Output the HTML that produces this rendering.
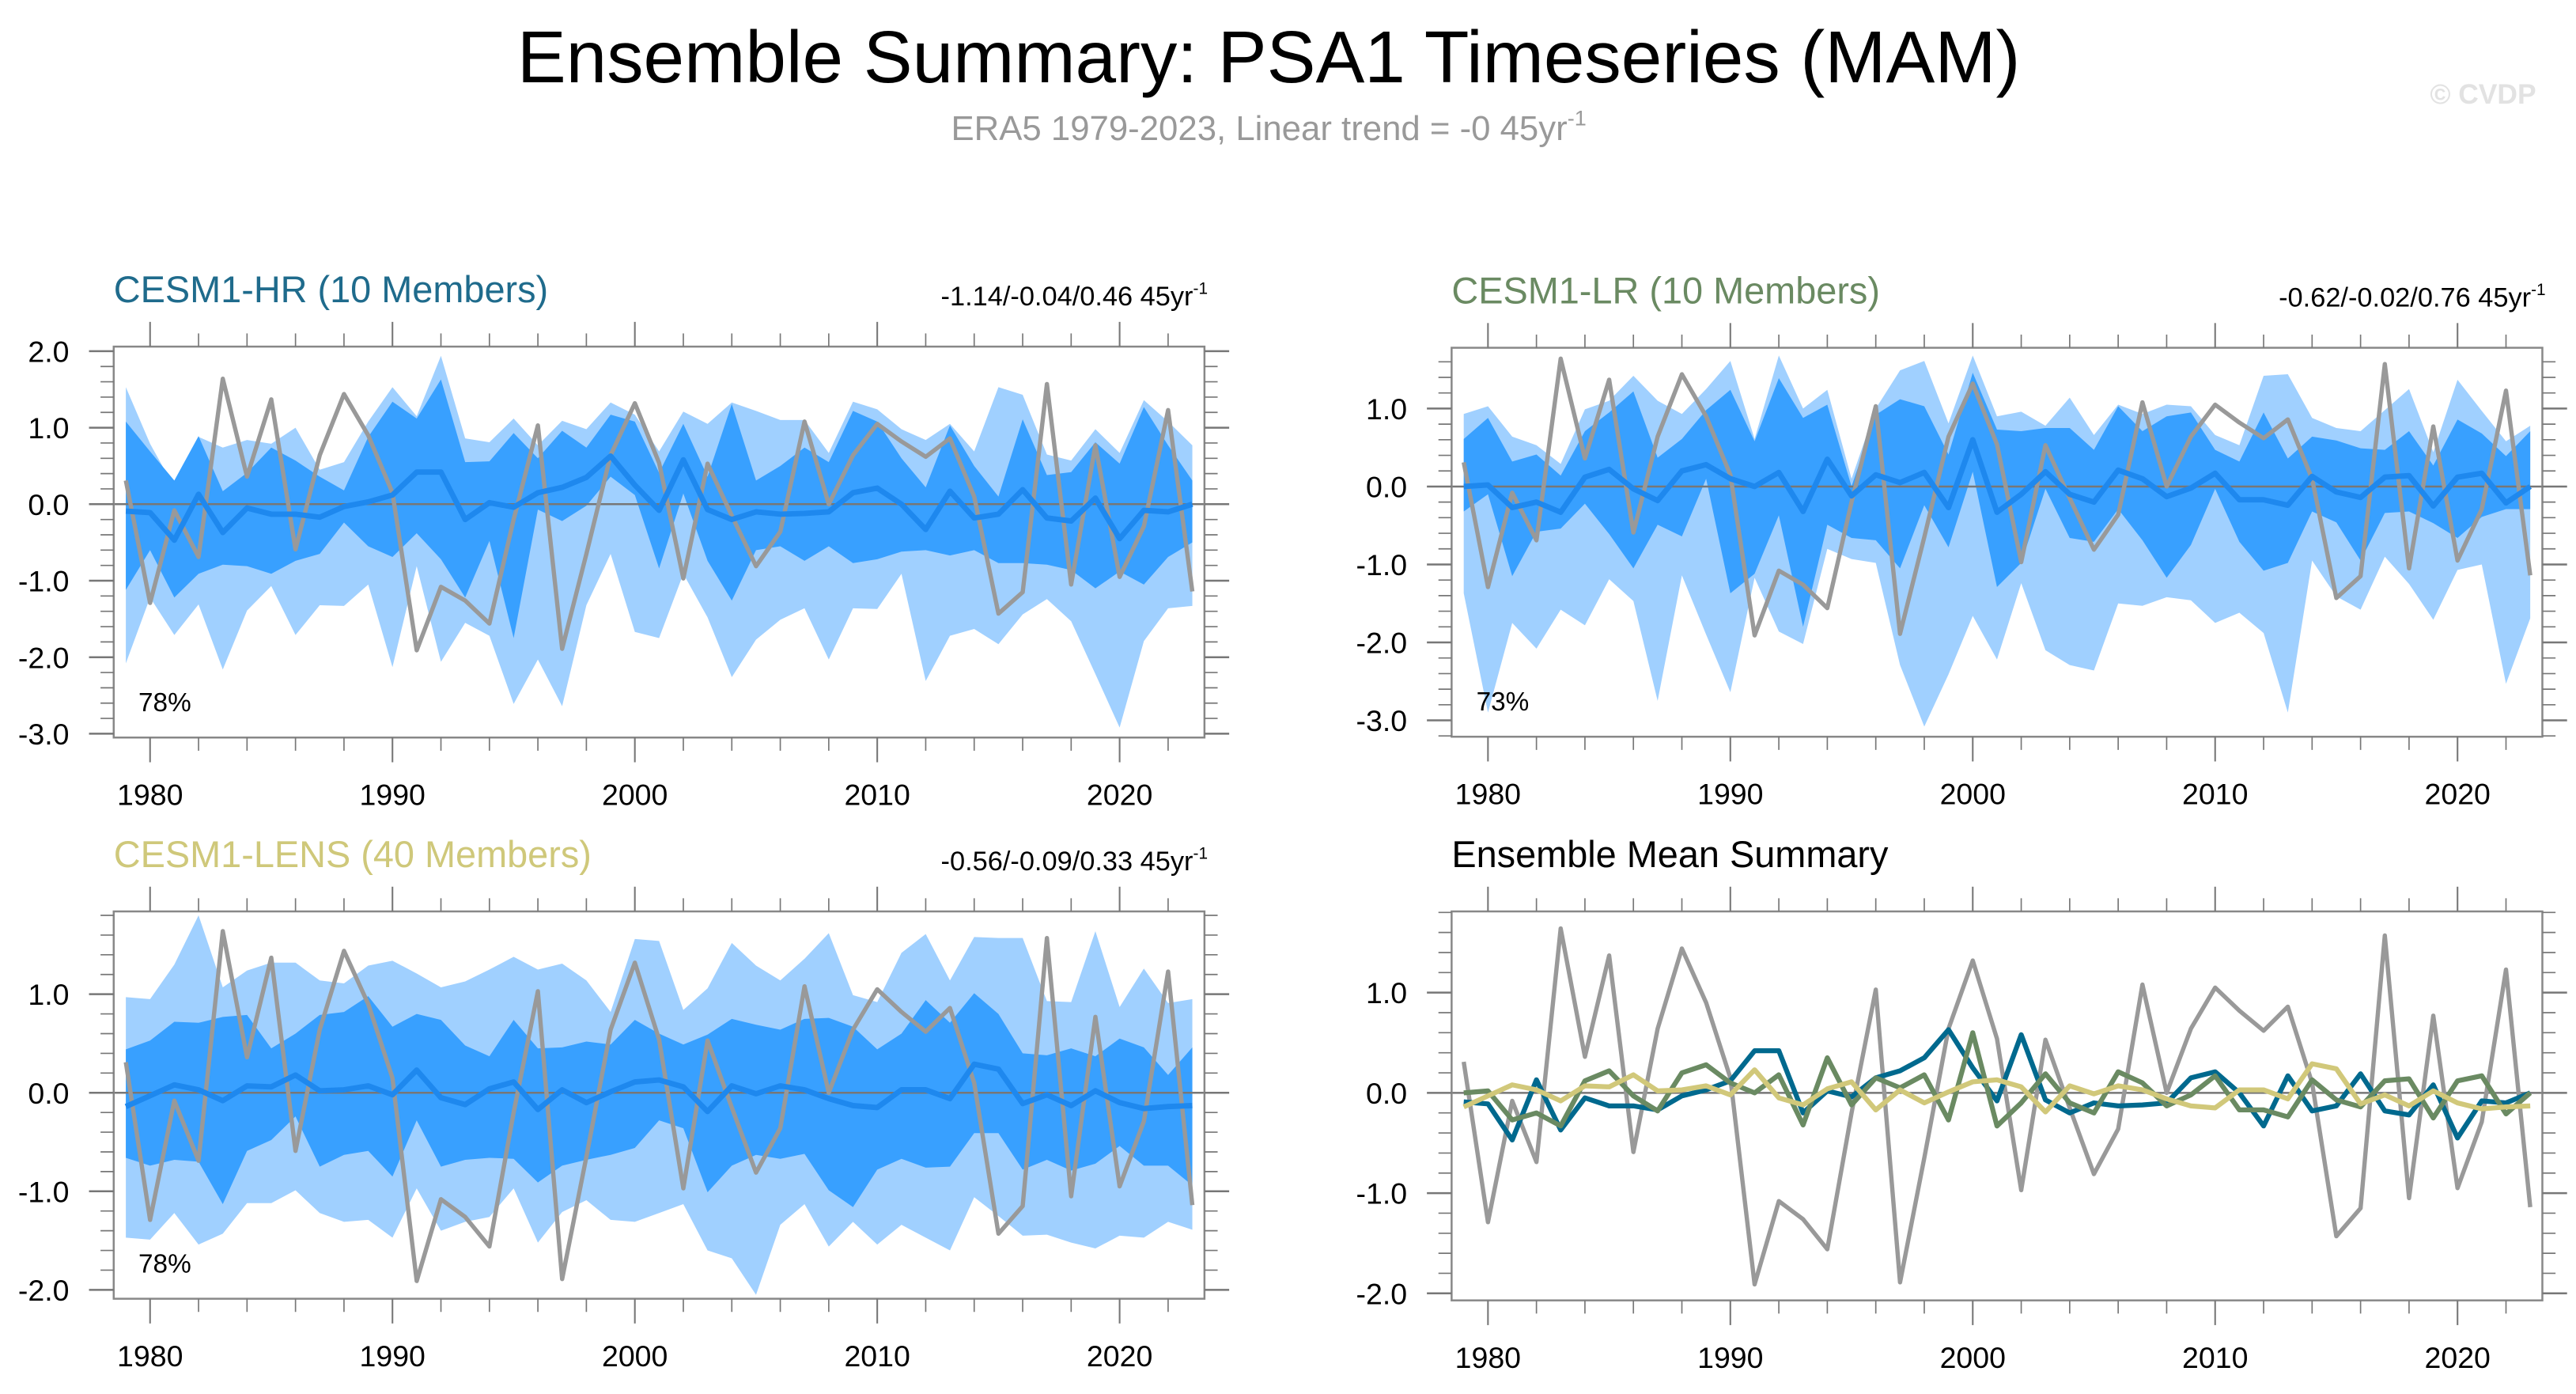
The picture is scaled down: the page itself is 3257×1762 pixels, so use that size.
<!DOCTYPE html>
<html><head><meta charset="utf-8"><style>
html,body{margin:0;padding:0;background:#fff;}
svg{display:block;font-family:"Liberation Sans",sans-serif;}
</style></head><body>
<svg id="chart" width="3257" height="1762" viewBox="0 0 1563.4 845.8" xmlns="http://www.w3.org/2000/svg">
<text x="770" y="50" text-anchor="middle" font-size="44.5">Ensemble Summary: PSA1 Timeseries (MAM)</text>
<text x="770" y="85" text-anchor="middle" font-size="21" fill="#999">ERA5 1979-2023, Linear trend = -0 45yr<tspan dy="-9" font-size="13">-1</tspan></text>
<text x="1507" y="63" text-anchor="middle" font-size="17" font-weight="bold" fill="#e2e2e2">© CVDP</text>
<g id="plots"></g>
</svg>
<script>
const years = [];
for (let y = 1979; y <= 2023; y++) years.push(y);
const era5 = [0.31,-1.29,-0.08,-0.69,1.64,0.36,1.37,-0.59,0.64,1.44,0.90,0.15,-1.91,-1.08,-1.26,-1.56,-0.2,1.03,-1.89,-0.65,0.64,1.32,0.54,-0.97,0.53,-0.15,-0.81,-0.36,1.08,0.0,0.64,1.05,0.82,0.62,0.86,0.1,-1.43,-1.15,1.57,-1.05,0.77,-0.95,-0.29,1.23,-1.14];
const hrMean = [-0.09,-0.11,-0.47,0.13,-0.37,-0.05,-0.13,-0.13,-0.17,-0.03,0.03,0.12,0.42,0.42,-0.2,0.02,-0.04,0.15,0.22,0.35,0.63,0.25,-0.08,0.58,-0.07,-0.2,-0.1,-0.13,-0.12,-0.1,0.15,0.21,0.0,-0.33,0.17,-0.18,-0.13,0.19,-0.18,-0.22,0.08,-0.45,-0.08,-0.1,0.0];
const lrMean = [0.0,0.02,-0.27,-0.2,-0.33,0.12,0.22,-0.03,-0.18,0.2,0.28,0.1,0.0,0.18,-0.32,0.35,-0.12,0.15,0.05,0.18,-0.27,0.6,-0.33,-0.1,0.19,-0.1,-0.2,0.21,0.1,-0.13,-0.02,0.17,-0.17,-0.17,-0.24,0.13,-0.07,-0.14,0.12,0.14,-0.25,0.12,0.17,-0.21,0.0];
const lensMean = [-0.14,-0.03,0.08,0.03,-0.08,0.07,0.06,0.18,0.02,0.03,0.07,-0.02,0.23,-0.05,-0.12,0.04,0.11,-0.17,0.03,-0.1,0.01,0.11,0.13,0.06,-0.19,0.07,-0.01,0.07,0.03,-0.06,-0.13,-0.15,0.03,0.03,-0.06,0.29,0.24,-0.11,-0.02,-0.13,0.02,-0.1,-0.16,-0.14,-0.13];

const hrMax = [1.53,0.79,0.22,0.88,0.74,0.84,0.79,1.0,0.45,0.55,1.08,1.53,1.15,1.94,0.86,0.81,1.12,0.77,1.09,0.98,1.33,1.17,0.69,1.21,1.05,1.33,1.22,1.1,1.1,0.67,1.34,1.24,0.98,0.84,1.05,0.69,1.53,1.43,0.65,0.57,0.98,0.67,1.36,1.08,0.77];
const hrHi = [1.08,0.69,0.31,0.89,0.17,0.41,0.74,0.57,0.36,0.18,0.88,1.34,1.12,1.63,0.55,0.56,0.93,0.6,0.96,0.74,1.17,1.08,0.41,1.05,0.36,1.31,0.31,0.5,0.74,0.55,1.22,1.08,0.6,0.22,1.03,0.5,0.1,1.11,0.38,0.42,0.81,0.53,1.27,0.77,0.31];
const hrLo = [-1.12,-0.6,-1.22,-0.91,-0.79,-0.81,-0.91,-0.74,-0.65,-0.24,-0.55,-0.69,-0.38,-0.72,-1.22,-0.48,-1.75,-0.07,-0.22,-0.02,0.36,0.12,-0.84,0.14,-0.74,-1.26,-0.6,-0.55,-0.74,-0.55,-0.77,-0.72,-0.62,-0.6,-0.67,-0.6,-0.77,-0.77,-0.79,-0.86,-1.1,-0.88,-1.05,-0.69,-0.5];
const hrMin = [-2.08,-1.22,-1.71,-1.31,-2.16,-1.39,-1.07,-1.71,-1.32,-1.33,-1.05,-2.13,-0.81,-2.06,-1.55,-1.72,-2.61,-2.03,-2.64,-1.32,-0.65,-1.67,-1.75,-0.91,-1.48,-2.26,-1.77,-1.51,-1.36,-2.03,-1.36,-1.37,-0.91,-2.31,-1.72,-1.63,-1.83,-1.44,-1.24,-1.53,-2.22,-2.92,-1.79,-1.36,-1.33];

const lrMax = [0.93,1.03,0.64,0.53,0.29,0.99,1.1,1.42,1.1,0.93,1.25,1.61,0.61,1.68,1.0,1.24,0.1,1.0,1.49,1.61,0.81,1.68,0.9,0.96,0.78,1.14,0.66,1.05,0.93,1.05,1.03,0.66,0.53,1.42,1.44,0.88,0.75,0.71,0.98,1.25,0.44,1.37,0.97,0.58,0.78];
const lrHi = [0.61,0.88,0.32,0.41,0.14,0.71,0.95,1.22,0.37,0.61,0.98,1.24,0.58,1.39,0.88,1.05,0.0,0.92,1.12,1.03,0.41,1.46,0.73,0.71,0.75,0.75,0.47,1.03,0.71,0.9,0.95,0.47,0.32,0.95,0.36,0.64,0.59,0.49,0.47,0.71,0.27,0.86,0.68,0.39,0.71];
const lrLo = [-0.32,-0.1,-1.15,-0.58,-0.54,-0.22,-0.61,-1.05,-0.49,-0.64,0.1,-1.37,-1.12,-0.37,-1.8,-0.49,-0.66,-0.69,-1.05,-0.24,-0.78,0.19,-1.29,-0.98,-0.03,-0.66,-0.71,-0.29,-0.69,-1.17,-0.75,-0.03,-0.71,-1.08,-0.98,-0.32,-0.46,-0.95,-0.34,-0.32,-0.47,-0.66,-0.39,-0.29,-0.29];
const lrMin = [-1.37,-2.9,-1.75,-2.08,-1.58,-1.78,-1.19,-1.47,-2.75,-1.14,-1.9,-2.64,-1.17,-1.86,-2.02,-0.8,-0.93,-0.98,-2.29,-3.08,-2.41,-1.66,-2.22,-1.24,-2.1,-2.29,-2.36,-1.5,-1.53,-1.42,-1.46,-1.75,-1.62,-1.88,-2.9,-0.95,-1.41,-1.58,-0.9,-1.25,-1.71,-1.07,-1.0,-2.53,-1.69];

const lensMax = [0.97,0.95,1.3,1.8,1.07,1.24,1.32,1.32,1.14,1.11,1.29,1.34,1.21,1.07,1.13,1.25,1.38,1.25,1.31,1.14,0.82,1.56,1.54,0.84,1.06,1.52,1.29,1.14,1.36,1.62,0.99,0.92,1.42,1.61,1.14,1.58,1.57,1.57,0.93,0.92,1.64,0.87,1.26,0.91,0.95];
const lensHi = [0.44,0.53,0.72,0.71,0.77,0.79,0.45,0.6,0.79,0.82,0.98,0.67,0.8,0.74,0.48,0.37,0.74,0.45,0.46,0.52,0.49,0.74,0.6,0.49,0.59,0.75,0.69,0.64,0.75,0.76,0.67,0.44,0.6,0.94,0.71,1.01,0.8,0.4,0.38,0.45,0.37,0.55,0.46,0.18,0.46];
const lensLo = [-0.66,-0.74,-0.68,-0.7,-1.13,-0.59,-0.48,-0.24,-0.75,-0.63,-0.59,-0.85,-0.28,-0.75,-0.68,-0.66,-0.67,-0.91,-0.74,-0.68,-0.63,-0.56,-0.28,-0.36,-1.01,-0.74,-0.63,-0.67,-0.62,-0.99,-1.16,-0.78,-0.67,-0.76,-0.75,-0.41,-0.41,-0.78,-0.68,-0.79,-0.72,-0.54,-0.74,-0.74,-0.94];
const lensMin = [-1.47,-1.49,-1.22,-1.54,-1.43,-1.12,-1.12,-0.99,-1.22,-1.31,-1.29,-1.47,-0.97,-1.4,-1.31,-1.26,-0.97,-1.52,-1.21,-1.09,-1.29,-1.31,-1.22,-1.13,-1.6,-1.68,-2.05,-1.34,-1.13,-1.56,-1.31,-1.54,-1.34,-1.47,-1.6,-1.06,-1.25,-1.45,-1.44,-1.52,-1.58,-1.45,-1.47,-1.31,-1.39];

const xTickLabels = ["1980","1990","2000","2010","2020"];

const NS = "http://www.w3.org/2000/svg";
const root = document.getElementById("plots");
function mk(tag, attrs, parent) {
  const e = document.createElementNS(NS, tag);
  for (const k in attrs) e.setAttribute(k, attrs[k]);
  (parent || root).appendChild(e);
  return e;
}

const panels = [
  {id:"hr", x0:69, x1:731, y0:210.3, y1:447.5, ymin:-3.05, ymax:2.06, majors:[-3,-2,-1,0,1,2], title:"CESM1-HR (10 Members)", tcol:"#1f6b8c", stat:"-1.14/-0.04/0.46 45yr", pct:"78%", bands:[hrMax,hrHi,hrLo,hrMin], mean:hrMean},
  {id:"lr", x0:881, x1:1543, y0:211, y1:447, ymin:-3.21, ymax:1.78, majors:[-3,-2,-1,0,1], title:"CESM1-LR (10 Members)", tcol:"#6a8a62", stat:"-0.62/-0.02/0.76 45yr", pct:"73%", bands:[lrMax,lrHi,lrLo,lrMin], mean:lrMean},
  {id:"lens", x0:69, x1:731, y0:553, y1:788, ymin:-2.09, ymax:1.84, majors:[-2,-1,0,1], title:"CESM1-LENS (40 Members)", tcol:"#cfc87a", stat:"-0.56/-0.09/0.33 45yr", pct:"78%", bands:[lensMax,lensHi,lensLo,lensMin], mean:lensMean},
  {id:"summary", x0:881, x1:1543, y0:553, y1:789, ymin:-2.07, ymax:1.81, majors:[-2,-1,0,1], title:"Ensemble Mean Summary", tcol:"#000", stat:null}
];

panels.forEach(p => {
  const g = mk("g", {});
  
  
  const xs = yr => p.x0 + (yr - 1978.5) / 45 * (p.x1 - p.x0);
  const ys = v => p.y1 - (v - p.ymin) / (p.ymax - p.ymin) * (p.y1 - p.y0);
  const poly = arr => arr.map((v,i)=>xs(years[i]).toFixed(2)+","+ys(v).toFixed(2));

  if (p.bands) {
    const outer = mk("polygon", {points: poly(p.bands[0]).concat(poly(p.bands[3]).reverse()).join(" "), fill:"#a0d0ff"}, g);
    
    
    const inner = mk("polygon", {points: poly(p.bands[1]).concat(poly(p.bands[2]).reverse()).join(" "), fill:"#38a0ff"}, g);
    
    
  }
  const zl = mk("line", {x1:p.x0, x2:p.x1, y1:ys(0), y2:ys(0), stroke:"#777", "stroke-width":1.2}, g);
  
  

  const er = mk("polyline", {points: poly(era5).join(" "), fill:"none", stroke:"#999", "stroke-width":2.6, "stroke-linejoin":"round"}, g);
  
  

  if (p.mean) {
    const m = mk("polyline", {points: poly(p.mean).join(" "), fill:"none", stroke:"#1e88ee", "stroke-width":3.3, "stroke-linejoin":"round"}, g);
    
    
  } else {
    [[hrMean,"#00698e","hr-mean-line"],[lrMean,"#6a8a62","lr-mean-line"],[lensMean,"#d1c87a","lens-mean-line"]].forEach(s=>{
      const l = mk("polyline", {points: poly(s[0]).join(" "), fill:"none", stroke:s[1], "stroke-width":3, "stroke-linejoin":"round"}, g);
      
      
    });
  }

  const box = mk("rect", {x:p.x0, y:p.y0, width:p.x1-p.x0, height:p.y1-p.y0, fill:"none", stroke:"#888", "stroke-width":1.2}, g);
  
  

  for (let yr = 1980; yr <= 2022; yr += 2) {
    const major = yr % 10 === 0;
    const L = major ? 15 : 8;
    const x = xs(yr);
    mk("line", {x1:x, x2:x, y1:p.y0, y2:p.y0-L, stroke:"#777", "stroke-width":major?1:0.8}, g);
    mk("line", {x1:x, x2:x, y1:p.y1, y2:p.y1+L, stroke:"#777", "stroke-width":major?1:0.8}, g);
  }
  xTickLabels.forEach(t => {
    const tx = mk("text", {x:xs(+t), y:p.y1+41, "text-anchor":"middle", "font-size":18}, g);
    tx.textContent = t;
    
    
  });
  const lo = Math.ceil(p.ymin*5), hi = Math.floor(p.ymax*5);
  for (let k = lo; k <= hi; k++) {
    const v = k/5, major = k % 5 === 0;
    const L = major ? 15 : 8;
    const y = ys(v);
    mk("line", {x1:p.x0, x2:p.x0-L, y1:y, y2:y, stroke:"#777", "stroke-width":major?1.2:0.8}, g);
    mk("line", {x1:p.x1, x2:p.x1+L, y1:y, y2:y, stroke:"#777", "stroke-width":major?1.2:0.8}, g);
  }
  p.majors.forEach(v => {
    const ty = mk("text", {x:p.x0-27, y:ys(v)+6.5, "text-anchor":"end", "font-size":18}, g);
    ty.textContent = v.toFixed(1);
    
    
  });

  const tt = mk("text", {x:p.x0, y:p.y0-27, "font-size":22.5, fill:p.tcol}, g);
  tt.textContent = p.title;
  
  
  if (p.stat) {
    const st = mk("text", {x:p.x1+2, y:p.y0-25, "text-anchor":"end", "font-size":16.5}, g);
    st.textContent = p.stat;
    const sup = mk("tspan", {dy:-7, "font-size":10}, st);
    sup.textContent = "-1";
    
    
  }
  if (p.pct) {
    const pc = mk("text", {x:p.x0+15, y:p.y1-16, "font-size":16}, g);
    pc.textContent = p.pct;
    
    
  }
});
</script>
</body></html>
